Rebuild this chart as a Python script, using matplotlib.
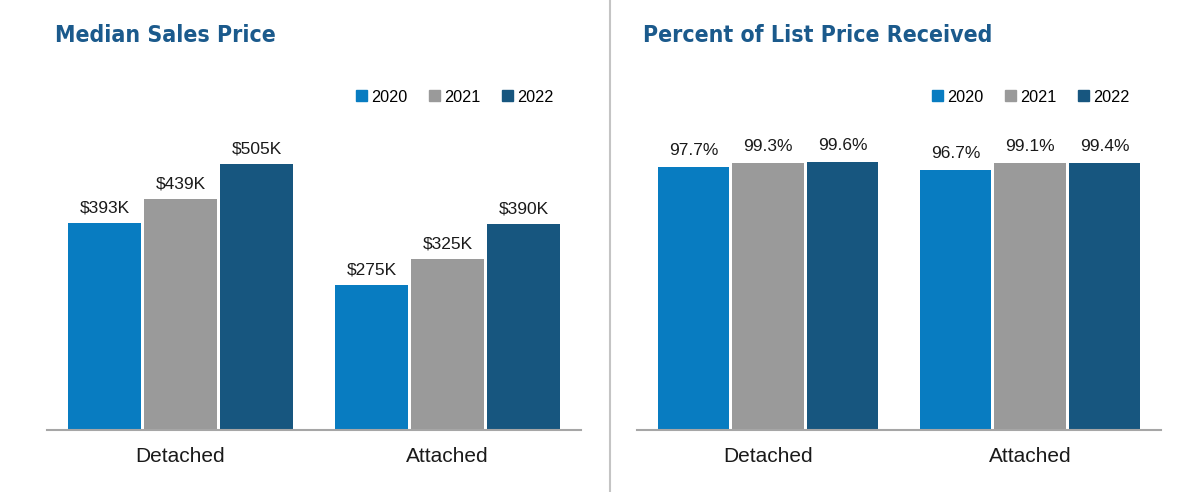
import matplotlib
matplotlib.use('Agg')
import matplotlib.pyplot as plt
from matplotlib.lines import Line2D
from matplotlib.patches import Patch

# Data
categories = ['Detached', 'Attached']
years = ['2020', '2021', '2022']
median_price = [[393, 275], [439, 325], [505, 390]]  # $K, one list per year
list_pct = [[97.7, 96.7], [99.3, 99.1], [99.6, 99.4]]  # %, one list per year

colors = ['#087cc1', '#9a9a9a', '#17567f']
title_color = '#1b5a8c'

plt.rcParams['font.family'] = ['Liberation Sans', 'DejaVu Sans']


# Function to draw one grouped bar panel
def plot_panel(fig, rect, values, fmt, ymax, title, title_x, legend_right, label_off):
    ax = fig.add_axes(rect)
    step = 0.285
    width = 0.273
    xs = range(len(categories))
    for i, (year, vals) in enumerate(zip(years, values)):
        pos = [x + (i - 1) * step for x in xs]
        bars = ax.bar(pos, vals, width=width, color=colors[i], label=year)
        for b, v in zip(bars, vals):
            ax.annotate(fmt(v), (b.get_x() + b.get_width() / 2, b.get_height()),
                        xytext=(0, label_off), textcoords='offset points',
                        ha='center', va='bottom', fontsize=12.5, color='#1a1a1a')
    ax.set_xlim(-0.5, 1.5)
    ax.set_ylim(0, ymax)
    ax.set_xticks(list(xs))
    ax.set_xticklabels(categories, fontsize=15, color='#1a1a1a')
    ax.tick_params(axis='x', length=0, pad=12)
    ax.set_yticks([])
    for s in ['top', 'left', 'right']:
        ax.spines[s].set_visible(False)
    ax.spines['bottom'].set_color('#a6a6a6')
    ax.spines['bottom'].set_linewidth(1.5)

    # Legend with small square markers
    handles = [Patch(color=c, label=y) for c, y in zip(colors, years)]
    ax.legend(handles=handles, ncol=3, frameon=False, fontsize=11.7,
              loc='center right', bbox_to_anchor=(legend_right, 1 - 97 / 492),
              bbox_transform=fig.transFigure, borderpad=0, borderaxespad=0,
              handlelength=0.65, handleheight=0.65, handletextpad=0.25,
              columnspacing=1.35)

    fig.text(title_x, 1 - 35 / 492, title, fontsize=16.6, fontweight='bold',
             fontstretch='condensed', color=title_color, va='center', ha='left',
             family=['DejaVu Sans'])
    return ax


def main():
    fig = plt.figure(figsize=(12, 4.92), dpi=100)
    bottom = (492 - 430) / 492
    height = 350 / 492

    plot_panel(fig, [47 / 1200, bottom, 534 / 1200, height], median_price,
               lambda v: f'${v}K', 350 / 0.527, 'Median Sales Price',
               55 / 1200, 553 / 1200, 5.5)
    plot_panel(fig, [637 / 1200, bottom, 524 / 1200, height], list_pct,
               lambda v: f'{v:.1f}%', 350 / 2.69, 'Percent of List Price Received',
               643 / 1200, 1129 / 1200, 6.5)

    # Vertical separator between the two panels
    fig.add_artist(Line2D([610 / 1200, 610 / 1200], [0.0, 1.0],
                          transform=fig.transFigure, color='#c4c4c4', lw=1.5))

    fig.savefig('out.png', dpi=100)


main()
